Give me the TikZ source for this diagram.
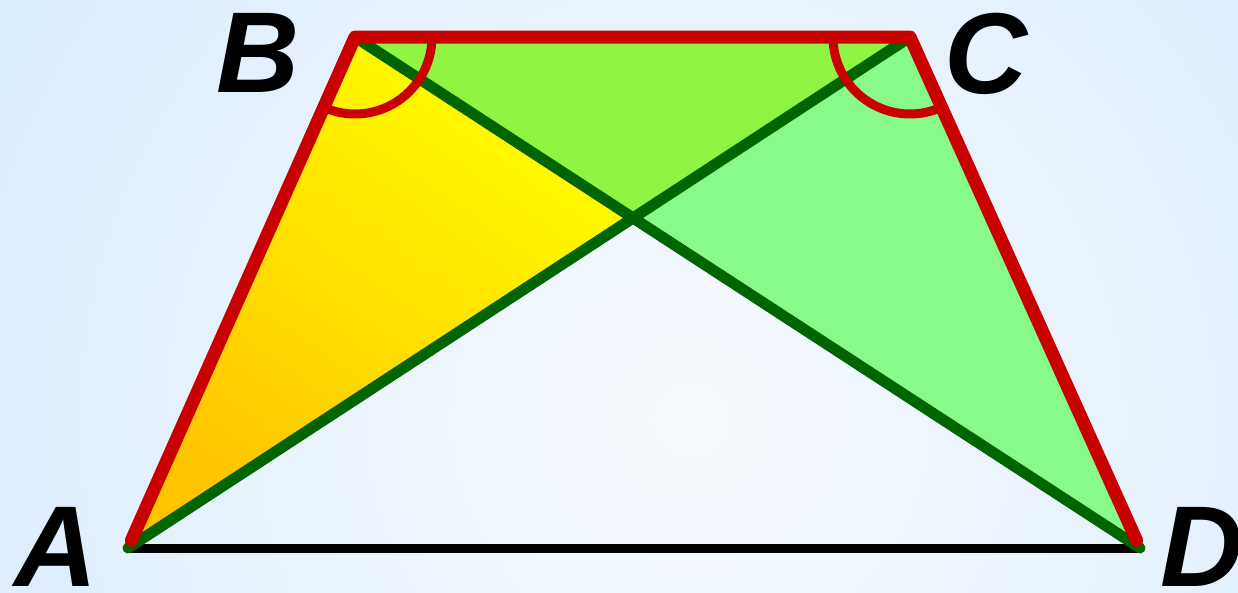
\documentclass[tikz,border=0pt]{standalone}
\usepackage{fontspec}
\setmainfont{Liberation Sans}
\usepackage{xcolor}
\definecolor{bgOuter}{HTML}{C6E2FB}
\definecolor{bgInner}{HTML}{F7FAFE}
\definecolor{sideRed}{HTML}{C80000}
\definecolor{diagGreen}{HTML}{006400}
\definecolor{fillYellow}{HTML}{FFFF00}
\definecolor{fillOrange}{HTML}{FFC400}
\definecolor{fillGreen}{HTML}{8FF542}
\definecolor{fillLight}{HTML}{88FA8A}
\usetikzlibrary{calc, positioning}
\tikzset{
  sideline/.style={draw=sideRed, line width=13pt, line cap=round, line join=round},
  diagline/.style={draw=diagGreen, line width=11pt, line cap=round},
  baseedge/.style={draw=black, line width=9pt, line cap=round},
  anglemark/.style={draw=sideRed, line width=9pt},
  vertexlabel/.style={inner sep=0pt, anchor=base west, font=\fontsize{115}{115}\selectfont\bfseries\itshape}
}

\begin{document}
\begin{tikzpicture}[x=1pt, y=-1pt]
  \useasboundingbox (0,0) rectangle (1238,592);
  \begin{scope}
    \clip (0,0) rectangle (1238,592);
    \shade[inner color=bgInner, outer color=bgOuter] (690,420) circle (1400);
  \end{scope}

  \coordinate (A) at (128,548);
  \coordinate (B) at (355,37);
  \coordinate (C) at (910,37);
  \coordinate (D) at (1140,548);
  \coordinate (O) at (intersection of A--C and B--D);

  % triangles
  \shade[top color=fillYellow, bottom color=fillOrange, shading angle=-35, draw=black, line width=1pt]
    (A) -- (B) -- (O) -- cycle;
  \fill[fillGreen, draw=black, line width=1pt] (B) -- (C) -- (O) -- cycle;
  \fill[fillLight, draw=black, line width=1pt] (O) -- (C) -- (D) -- cycle;

  \draw[baseedge] (A) -- (D);
  \draw[diagline] (A) -- (C);
  \draw[diagline] (B) -- (D);
  \draw[sideline] ($(A)!0.015!(B)$) -- (B) -- (C) -- ($(D)!0.015!(C)$);

  % angles at B and C
  \draw[anglemark] ([shift={(0:77)}]B) arc[start angle=0, end angle=114, radius=77];
  \draw[anglemark] ([shift={(66:77)}]C) arc[start angle=66, end angle=180, radius=77];

  \node[vertexlabel] (lA) at (14,586) {A};
  \node[vertexlabel] (lB) at (216,92) {B};
  \node[vertexlabel] (lC) at (944,93) {C};
  \node[vertexlabel] (lD) at (1160,586) {D};
\end{tikzpicture}
\end{document}
